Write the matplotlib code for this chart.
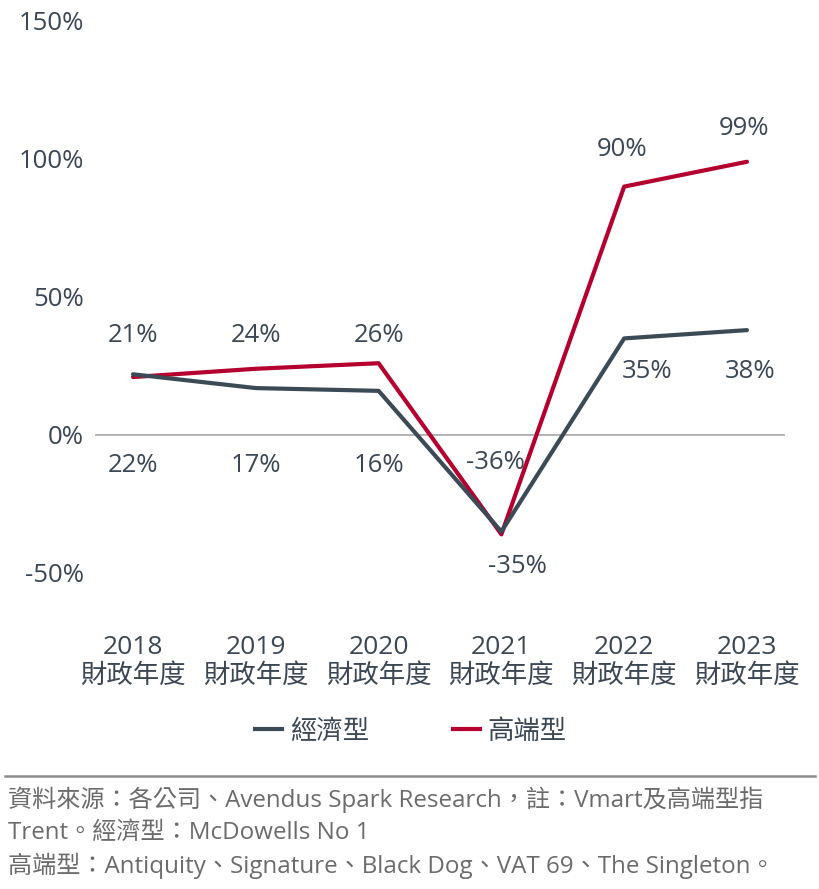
import matplotlib
matplotlib.use("Agg")
import matplotlib.pyplot as plt
from matplotlib.lines import Line2D

FAM = ['Open Sans', 'Noto Sans CJK TC', 'DejaVu Sans']
plt.rcParams['font.family'] = FAM

years = ["2018", "2019", "2020", "2021", "2022", "2023"]
year_suffix = "財政年度"
economy = [22, 17, 16, -35, 35, 38]
premium = [21, 24, 26, -36, 90, 99]
series_names = ["經濟型", "高端型"]
yticks = [-50, 0, 50, 100, 150]

# label anchor positions (layout only)
eco_label_y = [-11, -11, -11, -47.5, 23, 23]
eco_label_dx = [0, 0, 0, 0.13, 0.19, 0.03]
pre_label_y = [36, 36, 36, -10, 103.5, 111]
pre_label_dx = [0, 0, 0, -0.05, -0.02, -0.02]

TEXT = "#3b4754"
DARK = "#3c4a56"
RED = "#b5002f"
FOOT = "#6b6b6b"

fig = plt.figure(figsize=(8.2, 8.89), dpi=100)
ax = fig.add_axes([95/820, 1-573/889, 690/820, 552/889])

x = list(range(len(years)))
ax.axhline(0, color="#a6a6a6", lw=1.2, zorder=1)
ax.plot(x, economy, color=DARK, lw=3.0, solid_capstyle="round", zorder=3)
ax.plot(x, premium, color=RED, lw=3.0, solid_capstyle="round", zorder=2)

for i in x:
    ax.text(i + eco_label_dx[i], eco_label_y[i], f"{economy[i]}%", ha="center", va="center",
            fontsize=18.5, color=TEXT)
    ax.text(i + pre_label_dx[i], pre_label_y[i], f"{premium[i]}%", ha="center", va="center",
            fontsize=18.5, color=TEXT)

ax.set_xlim(-0.31, 5.31)
ax.set_ylim(-50, 150)
ax.set_yticks(yticks)
ax.set_yticklabels([f"{v}%" for v in yticks], fontsize=18.5, color=TEXT)
ax.set_xticks(x)
ax.set_xticklabels([f"{y}\n{year_suffix}" for y in years], fontsize=19, color=TEXT,
                   linespacing=1.2)
ax.tick_params(axis="both", length=0)
ax.tick_params(axis="y", pad=8)
ax.tick_params(axis="x", pad=45)
for s in ax.spines.values():
    s.set_visible(False)

handles = [Line2D([0], [0], color=DARK, lw=3), Line2D([0], [0], color=RED, lw=3)]
leg = fig.legend(handles, series_names, loc="center", bbox_to_anchor=(411/820, 1-732/889),
                 ncol=2, frameon=False, fontsize=19, handlelength=1.0, handletextpad=0.3,
                 columnspacing=3.2)
for t in leg.get_texts():
    t.set_color(TEXT)

fig.add_artist(Line2D([5/820, 815/820], [1-776/889, 1-776/889], color="#8c8c8c", lw=1.8,
                      transform=fig.transFigure))

foot_lines = [
    "資料來源：各公司、Avendus Spark Research，註：Vmart及高端型指",
    "Trent。經濟型：McDowells No 1",
    "高端型：Antiquity、Signature、Black Dog、VAT 69、The Singleton。",
]
for k, line in enumerate(foot_lines):
    fig.text(8/820, 1-(800 + 33*k)/889, line, ha="left", va="center", fontsize=17.4, color=FOOT)

fig.savefig("out.png", dpi=100)
